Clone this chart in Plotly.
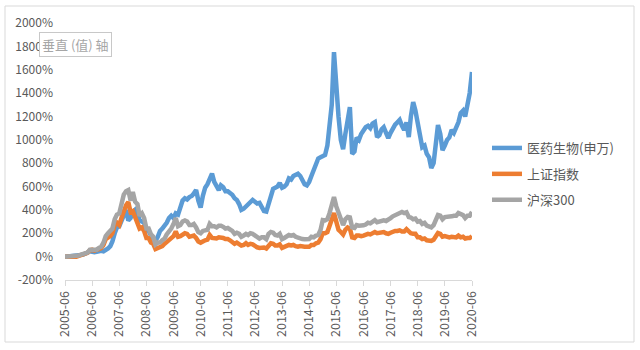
import pandas as pd
import plotly.graph_objects as go

# Monthly observations, 2005-06 .. 2020-06 (cumulative return, %)
dates = pd.date_range("2005-06-01", "2020-06-01", freq="MS")

medicine = (
    [0, 2, 5, 3, 0, 2, 8]
    + [15, 18, 22, 35, 45, 40, 38, 42, 48, 50, 45, 55]
    + [70, 90, 130, 200, 250, 260, 300, 360, 400, 310, 330, 380]
    + [400, 370, 310, 300, 290, 230, 220, 180, 160, 135, 170, 220]
    + [240, 260, 290, 330, 350, 330, 370, 360, 420, 480, 500, 490]
    + [510, 520, 540, 570, 480, 420, 520, 590, 620, 670, 710, 640]
    + [600, 570, 610, 595, 560, 560, 545, 530, 500, 485, 450, 400]
    + [410, 430, 450, 460, 485, 470, 455, 460, 430, 390, 385, 440]
    + [510, 580, 590, 600, 630, 590, 600, 620, 670, 660, 690, 700]
    + [710, 690, 650, 620, 610, 640, 690, 740, 800, 840, 850, 860]
    + [870, 950, 1100, 1300, 1751, 1400, 1200, 1000, 920, 1050, 1150, 1280]
    + [880, 900, 1020, 1000, 1050, 1080, 1108, 1120, 1100, 1140, 1152, 1023]
    + [1040, 1090, 1108, 1060, 1015, 1060, 1100, 1130, 1150, 1170, 1120, 1084]
    + [1150, 1023, 1200, 1323, 1250, 1143, 1000, 937, 950, 880, 850, 758]
    + [800, 950, 1126, 1050, 912, 950, 998, 1020, 1084, 1060, 1108, 1150]
    + [1229, 1250, 1200, 1314, 1400, 1580]
)

shanghai = (
    [0, 1, 7, 6, 1, 0, 8]
    + [15, 20, 22, 33, 55, 60, 52, 55, 65, 72, 100, 150]
    + [160, 175, 200, 270, 290, 270, 330, 400, 440, 467, 380, 390]
    + [340, 310, 240, 250, 220, 160, 160, 120, 110, 65, 75, 75]
    + [90, 110, 125, 140, 155, 175, 215, 170, 175, 190, 200, 195]
    + [170, 175, 180, 160, 130, 120, 135, 140, 145, 185, 160, 160]
    + [155, 165, 165, 160, 150, 150, 140, 130, 110, 120, 110, 95]
    + [100, 115, 100, 110, 105, 90, 80, 75, 80, 78, 70, 100]
    + [115, 110, 95, 95, 105, 75, 80, 95, 100, 95, 100, 90]
    + [85, 90, 85, 85, 85, 85, 100, 100, 115, 120, 150, 200]
    + [200, 210, 260, 330, 373, 300, 230, 211, 190, 230, 250, 240]
    + [165, 160, 180, 180, 175, 180, 185, 195, 190, 195, 210, 200]
    + [205, 210, 210, 200, 195, 205, 215, 220, 220, 225, 215, 215]
    + [235, 215, 200, 195, 195, 165, 165, 150, 155, 140, 140, 135]
    + [145, 185, 202, 195, 170, 175, 170, 165, 170, 172, 165, 180]
    + [165, 170, 155, 160, 160, 175]
)

csi300 = (
    [0, 1, 6, 6, 1, 0, 9]
    + [17, 22, 23, 35, 60, 62, 58, 60, 75, 85, 120, 175]
    + [200, 215, 240, 320, 360, 370, 440, 530, 560, 570, 480, 553]
    + [470, 450, 350, 370, 330, 240, 240, 190, 170, 105, 120, 120]
    + [140, 155, 190, 210, 240, 280, 330, 260, 270, 300, 310, 300]
    + [270, 270, 280, 250, 210, 200, 220, 225, 230, 280, 260, 260]
    + [250, 265, 265, 255, 240, 245, 235, 220, 195, 205, 195, 170]
    + [180, 195, 185, 200, 195, 180, 165, 155, 165, 165, 150, 195]
    + [211, 205, 185, 180, 195, 150, 160, 175, 185, 180, 185, 170]
    + [160, 155, 150, 148, 150, 150, 170, 165, 180, 185, 228, 313]
    + [310, 320, 370, 440, 510, 430, 380, 313, 270, 320, 339, 335]
    + [250, 245, 270, 265, 265, 268, 275, 290, 285, 295, 313, 295]
    + [300, 310, 310, 305, 313, 330, 345, 355, 360, 375, 382, 373]
    + [380, 339, 335, 320, 325, 300, 305, 280, 290, 265, 262, 250]
    + [270, 330, 356, 350, 320, 339, 340, 335, 345, 350, 350, 373]
    + [360, 355, 330, 350, 350, 382]
)

series_names = ["医药生物(申万)", "上证指数", "沪深300"]
series_values = [medicine, shanghai, csi300]
series_colors = ["#5B9BD5", "#ED7D31", "#A5A5A5"]

y_ticks = list(range(-200, 2001, 200))

FONT = "Noto Sans CJK SC, Noto Sans, sans-serif"
TEXT = "#595959"

fig = go.Figure()
for i, (name, vals, col) in enumerate(zip(series_names, series_values, series_colors)):
    fig.add_trace(go.Scatter(
        x=dates, y=vals, name=name, mode="lines",
        line=dict(color=col, width=4.5),
        legendgroup=f"g{i}",
    ))

L, R, T, B = 65, 168, 23, 70
W, H = 640, 350
pw, ph = W - L - R, H - T - B

def px(xp):
    return (xp - L) / pw

def py(yp):
    return (H - B - yp) / ph

fig.update_layout(
    width=W, height=H,
    margin=dict(l=L, r=R, t=T, b=B),
    paper_bgcolor="white", plot_bgcolor="white",
    font=dict(family=FONT, color=TEXT, size=12),
    showlegend=True,
    legend=dict(
        x=px(487), y=py(174), xanchor="left", yanchor="middle",
        font=dict(size=13, color=TEXT, family=FONT),
        tracegroupgap=6, bgcolor="rgba(0,0,0,0)",
    ),
    xaxis=dict(
        type="date",
        range=["2005-06-01", "2020-06-01"],
        tick0="2005-06-01", dtick="M12", tickformat="%Y-%m",
        tickangle=-90, ticks="outside", ticklen=5, tickcolor="#d9d9d9",
        showline=True, linecolor="#d9d9d9", linewidth=1,
        showgrid=False, zeroline=False,
        tickfont=dict(size=12.5, color=TEXT),
    ),
    yaxis=dict(
        range=[-200, 2000], tickvals=y_ticks,
        ticktext=[f"{v}%" for v in y_ticks],
        showgrid=False, zeroline=False, showline=False,
        ticks="", ticklabelstandoff=11,
        tickfont=dict(size=12, color=TEXT),
    ),
    shapes=[
        dict(type="rect", xref="paper", yref="paper",
             x0=px(5), x1=px(634), y0=py(342), y1=py(6),
             line=dict(color="#d9d9d9", width=1), fillcolor="rgba(0,0,0,0)",
             layer="below"),
    ],
    annotations=[
        dict(xref="paper", yref="paper", x=px(39), y=py(32),
             xanchor="left", yanchor="top", showarrow=False,
             text="垂直 (值) 轴", font=dict(size=13, color="#a6a6a6", family=FONT),
             bgcolor="white", bordercolor="#c8c8c8", borderwidth=1, borderpad=2),
    ],
)

fig.write_html("out.html")
